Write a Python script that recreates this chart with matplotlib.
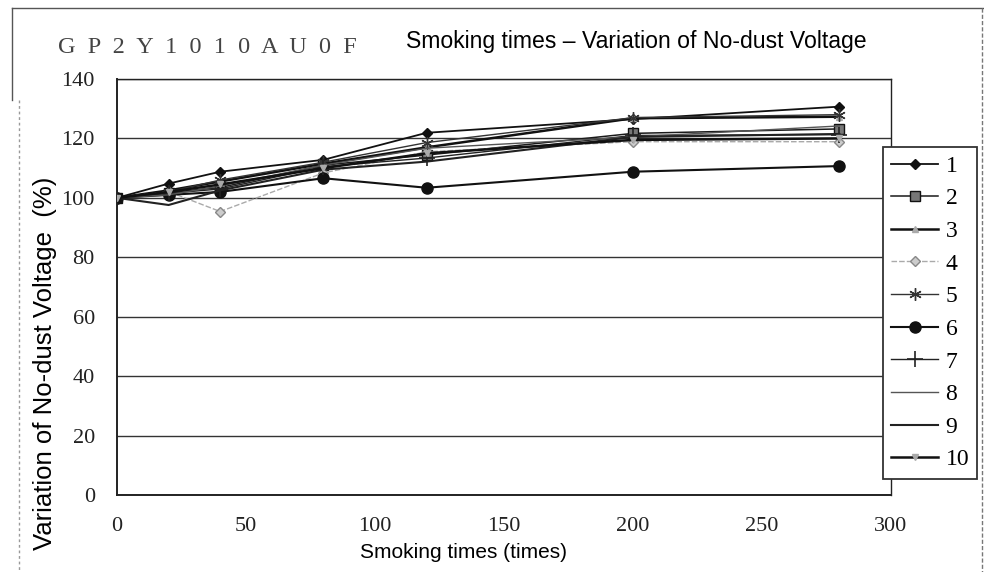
import matplotlib
matplotlib.use('Agg')
import matplotlib.pyplot as plt
from matplotlib.lines import Line2D

W, H = 984, 572

# smoking count at each measurement
smoking_times = [0, 20, 40, 80, 120, 200, 280]

# variation of no-dust voltage (%) per sample
s1 = [100, 104.8, 108.8, 112.8, 121.9, 126.5, 130.7]
s2 = [100, 101.8, 103.5, 111.0, 114.4, 121.7, 123.2]
s3 = [100, 102.5, 105.5, 111.5, 117.0, 126.8, 127.3]
s4 = [100, 102.1, 95.4, 108.4, 115.5, 118.9, 118.9]
s5 = [100, 102.0, 106.0, 112.0, 118.6, 127.0, 128.0]
s6 = [100, 101.0, 102.0, 106.6, 103.4, 108.8, 110.7]
s7 = [100, 101.5, 103.0, 110.5, 113.4, 121.0, 121.3]
s8 = [100, 101.0, 104.0, 111.0, 116.7, 120.5, 124.2]
s9 = [100, 97.6, 102.5, 109.5, 112.2, 120.5, 121.5]
s10 = [100, 102.0, 104.5, 110.0, 115.0, 119.5, 120.0]

series_labels = ['1', '2', '3', '4', '5', '6', '7', '8', '9', '10']
x_ticks = [0, 50, 100, 150, 200, 250, 300]
y_ticks = [0, 20, 40, 60, 80, 100, 120, 140]

DIGIT_FONT = ['Liberation Serif', 'DejaVu Serif']
SANS = ['Liberation Sans', 'DejaVu Sans']


def px(x, y):
    # pixel (from top-left) -> figure fraction
    return x / W, 1 - y / H


fig = plt.figure(figsize=(W / 100, H / 100), dpi=100)
fig.patch.set_facecolor('white')

l, b = 117 / W, (H - 495) / H
ax = fig.add_axes([l, b, (891 - 117) / W, (495 - 79) / H])

styles = [
    dict(color='#111', lw=1.3, marker='D', ms=5.5, mfc='#111', mec='#111'),
    dict(color='#1a1a1a', lw=1.1, marker='s', ms=7, mfc='#777', mec='#111', mew=1.0),
    dict(color='#111', lw=1.8, marker='^', ms=4, mfc='#aaa', mec='#aaa'),
    dict(color='#aaa', lw=1.0, ls=(0, (4, 1.5)), marker='D', ms=5, mfc='#ccc', mec='#888'),
    dict(color='#333', lw=1.0, marker=(6, 2, 0), ms=9, mec='#333', mew=1.0),
    dict(color='#111', lw=1.5, marker='o', ms=8, mfc='#111', mec='#111'),
    dict(color='#222', lw=1.0, marker='+', ms=11, mec='#222', mew=1.2),
    dict(color='#555', lw=1.0),
    dict(color='#222', lw=1.5),
    dict(color='#111', lw=1.8, marker='v', ms=4, mfc='#aaa', mec='#aaa'),
]
all_series = [s1, s2, s3, s4, s5, s6, s7, s8, s9, s10]

for vals, lab, st in zip(all_series, series_labels, styles):
    ax.plot(smoking_times, vals, label=lab, zorder=3, **st)

ax.set_xlim(0, 300)
ax.set_ylim(0, 140)
ax.set_xticks(x_ticks)
ax.set_yticks(y_ticks)
ax.tick_params(length=0, pad=16, labelsize=16, colors='#222')
for t in ax.get_xticklabels() + ax.get_yticklabels():
    t.set_family(DIGIT_FONT)

ax.yaxis.grid(True, color='#333', linewidth=1.0)
ax.set_axisbelow(True)
ax.spines['left'].set_linewidth(1.4)
ax.spines['bottom'].set_linewidth(1.4)
ax.spines['top'].set_linewidth(1.0)
ax.spines['right'].set_linewidth(1.0)
for s in ax.spines.values():
    s.set_color('#222')

leg = ax.legend(loc='upper left', bbox_to_anchor=px(883, 147),
                bbox_transform=fig.transFigure, prop={'family': DIGIT_FONT, 'size': 17},
                frameon=True, fancybox=False, framealpha=1, edgecolor='#333',
                handlelength=2.0, handletextpad=0.3, labelspacing=0.47,
                borderpad=0.35, borderaxespad=0)
leg.get_frame().set_linewidth(1.3)
leg.set_zorder(10)

# headings
fig.text(*px(58, 53), 'G  P  2  Y  1  0  1  0  A  U  0  F', family=['Liberation Serif', 'DejaVu Serif'],
         fontsize=17.5, color='#444', ha='left', va='baseline')
fig.text(*px(406, 48), 'Smoking times \u2013 Variation of No-dust Voltage', family=SANS,
         fontsize=16.6, color='black', ha='left', va='baseline')
fig.text(*px(45, 550), 'Variation of No-dust Voltage  (%)', family=SANS, fontsize=18.5,
         rotation=90, ha='center', va='bottom')
fig.text(*px(463, 552), 'Smoking times (times)', family=SANS, fontsize=15,
         ha='center', va='center')

# outer frame of the scanned page
for xs, ys, c, ls in [((12, 984), (8, 8), '#555', '-'),
                      ((12, 12), (8, 100), '#555', '-'),
                      ((19, 19), (100, 572), '#999', (0, (2, 2))),
                      ((982, 982), (8, 572), '#777', (0, (3, 1.5)))]:
    fig.add_artist(Line2D([x / W for x in xs], [1 - y / H for y in ys],
                          color=c, lw=1.0, ls=ls, transform=fig.transFigure))

fig.savefig('out.png', dpi=100, facecolor='white')
